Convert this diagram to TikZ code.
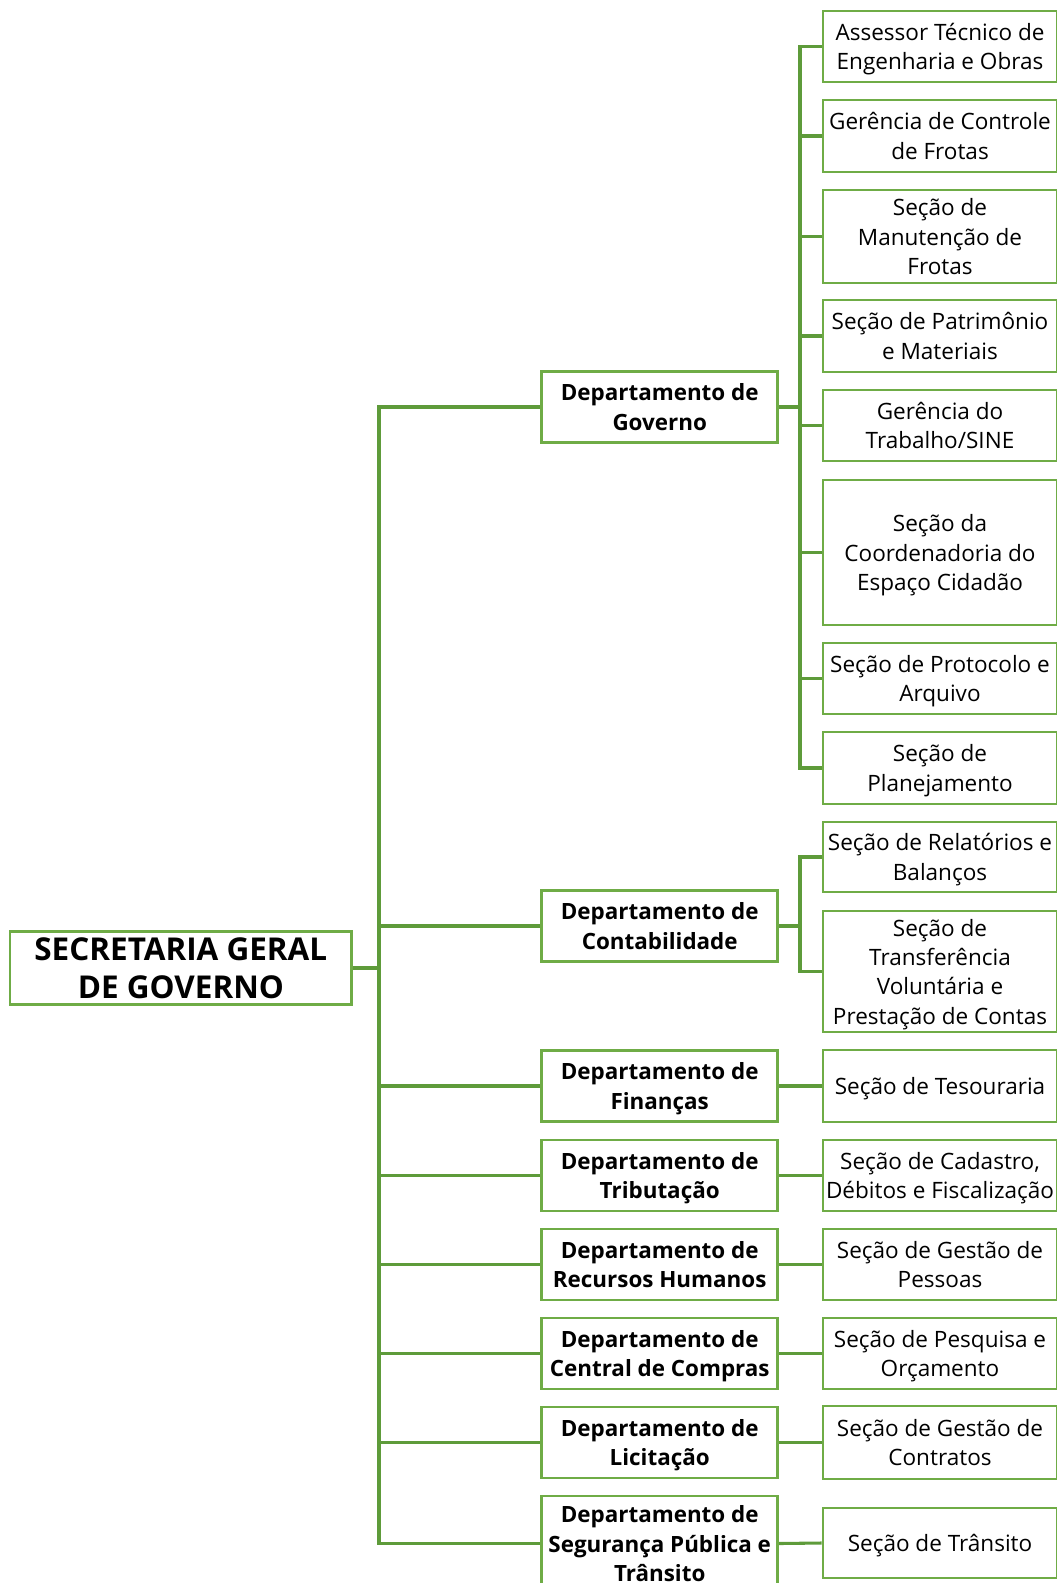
\documentclass[tikz,border=0pt]{standalone}
\usepackage{fontspec}
\setmainfont{Open Sans}
\definecolor{orggreen}{HTML}{6FAC46}
\definecolor{conngreen}{HTML}{5E9B3A}
\begin{document}
\begin{tikzpicture}[x=0.75pt,y=-0.75pt,
  box/.style={draw=orggreen, line width=2.2pt, fill=white, align=center, inner sep=0pt, text=black, text depth=0pt},
  rbox/.style={box, minimum width=175.5pt, minimum height=53.25pt, font=\fontsize{16.9}{22}\selectfont},
  dbox/.style={box, minimum width=177pt, minimum height=53.25pt, font=\fontsize{16.8}{22}\selectfont\bfseries},
  rootbox/.style={box, minimum width=256.3pt, minimum height=54.2pt, font=\fontsize{23.6}{28.5}\selectfont\bfseries},
  conn/.style={draw=conngreen, line width=2.3pt}]
\useasboundingbox (0,0) rectangle (1056,1583);
% bus coordinates
\coordinate (rootbus) at (379,968);
\coordinate (govbus) at (800,407);
\coordinate (contbus) at (800,926);
% root
\node[rootbox] (root) at (180.85,968) {SECRETARIA GERAL\\DE GOVERNO};
% departments
\node[dbox] (gov) at (659.7,407) {Departamento de\\Governo};
\node[dbox] (cont) at (659.7,926) {Departamento de\\Contabilidade};
\node[dbox] (fin) at (659.7,1086) {Departamento de\\Finanças};
\node[dbox] (trib) at (659.7,1175.5) {Departamento de\\Tributação};
\node[dbox] (rh) at (659.7,1264.5) {Departamento de\\Recursos Humanos};
\node[dbox] (comp) at (659.7,1353.5) {Departamento de\\Central de Compras};
\node[dbox] (lic) at (659.7,1442.5) {Departamento de\\Licitação};
\node[dbox, minimum height=71.25pt] (seg) at (659.7,1543.5) {Departamento de\\Segurança Pública e\\Trânsito};
% right boxes
\node[rbox] (r1) at (940,46.5) {Assessor Técnico de\\Engenharia e Obras};
\node[rbox, minimum height=54pt] (r2) at (940,136) {Gerência de Controle\\de Frotas};
\node[rbox, minimum height=69.75pt] (r3) at (940,236.5) {Seção de\\Manutenção de\\Frotas};
\node[rbox, minimum height=54pt] (r4) at (940,336) {Seção de Patrimônio\\e Materiais};
\node[rbox] (r5) at (940,425.5) {Gerência do\\Trabalho/SINE};
\node[rbox, minimum height=108.75pt] (r6) at (940,552.5) {Seção da\\Coordenadoria do\\Espaço Cidadão};
\node[rbox] (r7) at (940,678.5) {Seção de Protocolo e\\Arquivo};
\node[rbox, minimum height=54pt] (r8) at (940,768) {Seção de\\Planejamento};
\node[rbox, minimum height=52.5pt] (r9) at (940,857) {Seção de Relatórios e\\Balanços};
\node[rbox, minimum height=90.75pt] (r10) at (940,971.5) {Seção de\\Transferência\\Voluntária e\\Prestação de Contas};
\node[rbox, minimum height=54pt] (r11) at (940,1086) {Seção de Tesouraria};
\node[rbox] (r12) at (940,1175.5) {Seção de Cadastro,\\Débitos e Fiscalização};
\node[rbox] (r13) at (940,1264.5) {Seção de Gestão de\\Pessoas};
\node[rbox] (r14) at (940,1353.5) {Seção de Pesquisa e\\Orçamento};
\node[rbox, minimum height=54.75pt] (r15) at (940,1442.5) {Seção de Gestão de\\Contratos};
\node[rbox, minimum height=52.5pt] (r16) at (940,1543) {Seção de Trânsito};
% connectors
\draw[conn] (root.east) -- (rootbus);
\foreach \d in {gov,cont,fin,trib,rh,comp,lic,seg}{
  \draw[conn] (rootbus) |- (\d.west);
}
\draw[conn] (gov.east) -- (govbus);
\foreach \r in {r1,r2,r3,r4,r5,r6,r7,r8}{
  \draw[conn] (govbus) |- (\r.west);
}
\draw[conn] (cont.east) -- (contbus);
\foreach \r in {r9,r10}{
  \draw[conn] (contbus) |- (\r.west);
}
\draw[conn] (fin.east) -- (r11.west);
\draw[conn] (trib.east) -- (r12.west);
\draw[conn] (rh.east) -- (r13.west);
\draw[conn] (comp.east) -- (r14.west);
\draw[conn] (lic.east) -- (r15.west);
\draw[conn] (seg.east) -- (r16.west);
\end{tikzpicture}
\end{document}
